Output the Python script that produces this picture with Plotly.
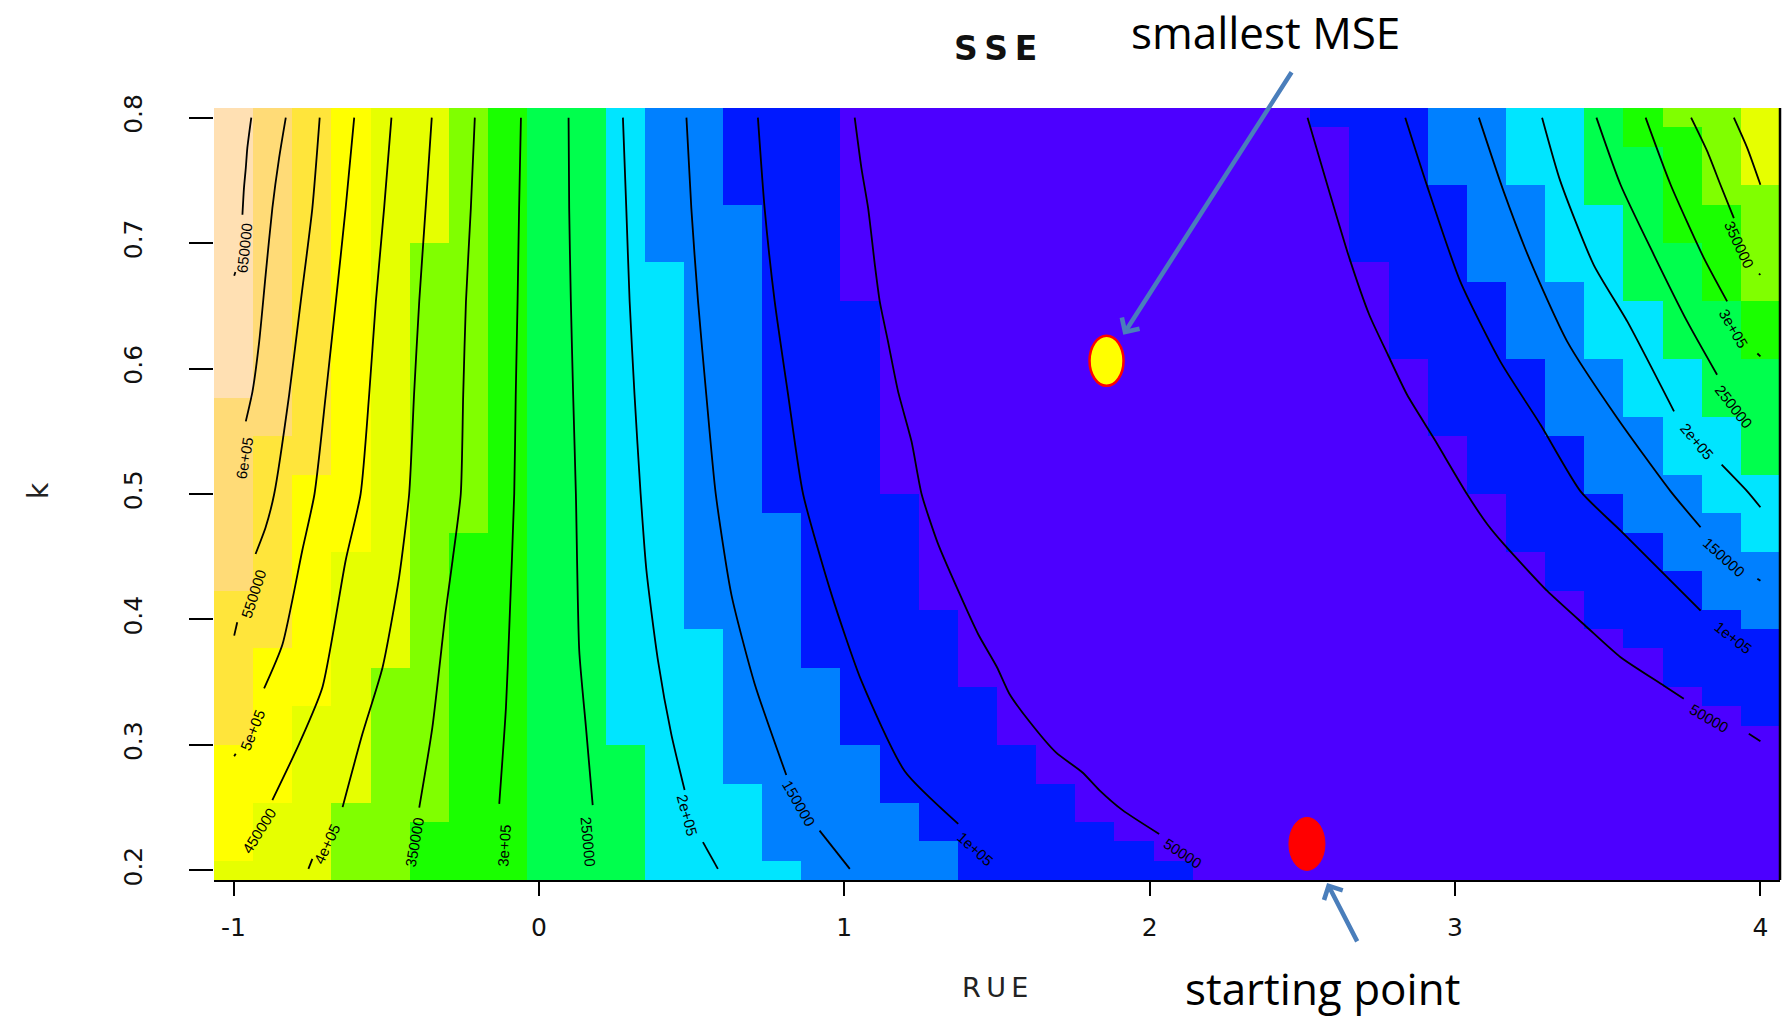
import numpy as np
import plotly.graph_objects as go

# ---------------- data ----------------
RUE_GRID = np.linspace(-1.0, 4.0, 40)      # grid of RUE values (cell centres)
K_GRID = np.linspace(0.2, 0.8, 40)         # grid of k values (cell centres)

# topo.colors(12): SSE bands from lowest (purple) to highest (peach)
BAND_COLORS = ["#4C00FF", "#0019FF", "#0080FF", "#00E5FF", "#00FF4D", "#1AFF00",
               "#80FF00", "#E6FF00", "#FFFF00", "#FFE53B", "#FFDB77", "#FFE0B3"]

# SSE band of every grid cell, column by column (RUE -1 .. 4),
# listed from k = 0.8 down to k = 0.2 as (band, number of cells)
BAND_RUNS = [
    [(11, 15), (10, 10), (9, 8), (8, 6), (7, 1)],
    [(10, 17), (9, 11), (8, 8), (7, 4)],
    [(9, 19), (8, 12), (7, 9)],
    [(8, 23), (7, 13), (6, 4)],
    [(7, 29), (6, 11)],
    [(7, 7), (6, 30), (5, 3)],
    [(6, 22), (5, 18)],
    [(5, 40)],
    [(4, 40)],
    [(4, 40)],
    [(3, 33), (4, 7)],
    [(2, 8), (3, 32)],
    [(2, 27), (3, 13)],
    [(1, 5), (2, 30), (3, 5)],
    [(1, 21), (2, 18), (3, 1)],
    [(1, 29), (2, 11)],
    [(0, 10), (1, 23), (2, 7)],
    [(0, 20), (1, 16), (2, 4)],
    [(0, 26), (1, 12), (2, 2)],
    [(0, 30), (1, 10)],
    [(0, 33), (1, 7)],
    [(0, 35), (1, 5)],
    [(0, 37), (1, 3)],
    [(0, 38), (1, 2)],
    [(0, 39), (1, 1)],
    [(0, 40)],
    [(0, 40)],
    [(0, 40)],
    [(1, 1), (0, 39)],
    [(1, 8), (0, 32)],
    [(1, 13), (0, 27)],
    [(2, 4), (1, 13), (0, 23)],
    [(2, 9), (1, 11), (0, 20)],
    [(3, 4), (2, 9), (1, 10), (0, 17)],
    [(3, 9), (2, 8), (1, 8), (0, 15)],
    [(4, 5), (3, 8), (2, 7), (1, 7), (0, 13)],
    [(5, 2), (4, 8), (3, 6), (2, 6), (1, 6), (0, 12)],
    [(6, 1), (5, 6), (4, 6), (3, 6), (2, 5), (1, 6), (0, 10)],
    [(6, 5), (5, 5), (4, 6), (3, 5), (2, 5), (1, 5), (0, 9)],
    [(7, 4), (6, 6), (5, 3), (4, 6), (3, 4), (2, 4), (1, 5), (0, 8)],
]

# SSE contour lines (RUE, k); None marks the gap where the label sits
L650000_RUE = [-0.942, -0.955, -0.960, -0.966, -0.971, None, -0.994, -0.998]
L650000_K = [0.8, 0.7757, 0.7598, 0.7438, 0.7226, None, 0.677, 0.674]
L600000_RUE = [-0.829, -0.851, -0.873, -0.895, -0.916, -0.938, -0.960]
L600000_K = [0.8, 0.7677, 0.7279, 0.6747, 0.6217, 0.5818, 0.5579]
L550000_RUE = [-0.718, -0.742, -0.780, -0.818, -0.867, -0.895, -0.928, None, -0.988, -0.998]
L550000_K = [0.8, 0.7279, 0.6535, 0.5791, 0.5, 0.4735, 0.4522, None, 0.3978, 0.3871]
L500000_RUE = [-0.605, -0.633, -0.665, -0.698, -0.735, -0.775, -0.840, -0.900, None, -0.993, -0.998]
L500000_K = [0.8, 0.7279, 0.6535, 0.5791, 0.5, 0.455, 0.380, 0.345, None, 0.293, 0.291]
L450000_RUE = [-0.483, -0.507, -0.534, -0.556, -0.584, -0.633, -0.709, -0.785, -0.873]
L450000_K = [0.8, 0.7279, 0.6535, 0.5791, 0.5, 0.447, 0.346, 0.301, 0.256]
L400000_RUE = [-0.351, -0.371, -0.392, -0.409, -0.425, -0.458, -0.512, -0.578, -0.643, None, -0.742, -0.755]
L400000_K = [0.8, 0.7279, 0.6535, 0.5791, 0.5, 0.4336, 0.3619, 0.3088, 0.2504, None, 0.2092, 0.2012]
L350000_RUE = [-0.210, -0.223, -0.239, -0.248, -0.256, -0.283, -0.305, -0.349, -0.392]
L350000_K = [0.8, 0.7279, 0.6535, 0.5791, 0.5, 0.4469, 0.407, 0.314, 0.25]
L300000_RUE = [-0.059, -0.065, -0.070, -0.076, -0.081, -0.097, -0.108, -0.130]
L300000_K = [0.8, 0.7279, 0.6535, 0.5791, 0.5, 0.394, 0.33, 0.253]
L250000_RUE = [0.097, 0.099, 0.1045, 0.112, 0.121, 0.132, 0.154, 0.176]
L250000_K = [0.8, 0.7279, 0.6535, 0.5791, 0.5, 0.375, 0.314, 0.252]
L200000_RUE = [0.275, 0.286, 0.297, 0.313, 0.333, 0.352, 0.390, 0.433, 0.477, None, 0.537, 0.586]
L200000_K = [0.8, 0.7279, 0.6535, 0.5791, 0.5, 0.439, 0.367, 0.309, 0.264, None, 0.2225, 0.2012]
L150000_RUE = [0.483, 0.499, 0.521, 0.548, 0.579, 0.630, 0.706, 0.810, None, 0.919, 1.018]
L150000_K = [0.8, 0.7279, 0.6535, 0.5791, 0.5, 0.42, 0.349, 0.276, None, 0.2317, 0.2012]
L100000_RUE = [0.717, 0.739, 0.772, 0.816, 0.865, 0.958, 1.056, 1.198, 1.373]
L100000_K = [0.8, 0.7279, 0.6535, 0.5791, 0.5, 0.42, 0.351, 0.279, 0.2371]
L50000_RUE = [1.034, 1.056, 1.078, 1.100, 1.116, 1.143, 1.176, 1.220, 1.253, 1.307, 1.373,
              1.438, 1.500, 1.540, 1.605, 1.693, 1.780, 1.835, 1.911, 2.031]
L50000_K = [0.8, 0.7598, 0.7279, 0.6827, 0.6535, 0.6217, 0.5818, 0.542, 0.5, 0.4602, 0.4229,
            0.3884, 0.3619, 0.341, 0.319, 0.294, 0.278, 0.264, 0.248, 0.229]
R50000_RUE = [2.517, 2.588, 2.654, 2.719, 2.780, 2.843, 2.930, 3.039, 3.105, 3.159, 3.301,
              3.432, 3.542, 3.684, 3.749, None, 3.962, 4.0]
R50000_K = [0.8, 0.7412, 0.688, 0.6429, 0.611, 0.5791, 0.5446, 0.5, 0.4761, 0.4602, 0.4229,
            0.3938, 0.3699, 0.3472, 0.3367, None, 0.3088, 0.3030]
R100000_RUE = [2.837, 2.908, 3.017, 3.148, 3.280, 3.411, 3.542, 3.673, 3.804]
R100000_K = [0.8, 0.746, 0.6695, 0.6057, 0.5552, 0.5021, 0.4708, 0.4389, 0.4070]
R150000_RUE = [3.078, 3.159, 3.247, 3.367, 3.531, 3.706, 3.804, None, 3.99, 4.0]
R150000_K = [0.8, 0.7412, 0.6854, 0.6217, 0.5606, 0.5021, 0.4735, None, 0.4325, 0.4309]
R200000_RUE = [3.285, 3.345, 3.454, 3.564, 3.717, None, 3.873, 3.957, 4.0]
R200000_K = [0.8, 0.7492, 0.6827, 0.6376, 0.5659, None, 0.5234, 0.5021, 0.4894]
R250000_RUE = [3.463, 3.542, 3.651, 3.760, 3.858]
R250000_K = [0.8, 0.7465, 0.6907, 0.6376, 0.5951]
R300000_RUE = [3.624, 3.706, 3.815, 3.891, None, 3.99, 4.0]
R300000_K = [0.8, 0.7465, 0.688, 0.6535, None, 0.612, 0.6097]
R350000_RUE = [3.773, 3.826, 3.869, 3.913, None, 3.995, 4.0]
R350000_K = [0.8, 0.7731, 0.7465, 0.7199, None, 0.6757, 0.6747]
R400000_RUE = [3.913, 3.957, 4.0]
R400000_K = [0.8, 0.7757, 0.7465]

# contour labels
LABEL_TEXT = ["650000", "6e+05", "550000", "5e+05", "450000", "4e+05", "350000", "3e+05",
              "250000", "2e+05", "150000", "1e+05", "50000",
              "50000", "1e+05", "150000", "2e+05", "250000", "3e+05", "350000"]
LABEL_RUE = [-0.966, -0.966, -0.933, -0.938, -0.916, -0.693, -0.409, -0.114, 0.1625, 0.486,
             0.852, 1.427, 2.110, 3.833, 3.910, 3.882, 3.793, 3.913, 3.913, 3.930]
LABEL_K = [0.696, 0.5287, 0.4203, 0.3114, 0.2317, 0.2211, 0.2225, 0.2198, 0.2233, 0.2437,
           0.2535, 0.2171, 0.2137, 0.3207, 0.3853, 0.4496, 0.542, 0.5699, 0.6323, 0.6987]
LABEL_ANGLE = [-84, -80, -72, -68, -58, -65, -80, -86, 85, 75, 60, 42, 33, 30, 38, 42, 50, 52, 60, 65]

# highlighted points
POINT_NAMES = ["smallest MSE", "starting point"]
POINT_RUE = [1.8587, 2.515]
POINT_K = [0.6062, 0.2211]

X_TICKS = [-1, 0, 1, 2, 3, 4]
X_TICKTEXT = ["-1", "0", "1", "2", "3", "4"]
Y_TICKS = [0.2, 0.3, 0.4, 0.5, 0.6, 0.7, 0.8]
Y_TICKTEXT = ["0.2", "0.3", "0.4", "0.5", "0.6", "0.7", "0.8"]

# ---------------- figure ----------------
W, H = 1783, 1017
ML, MR, MT, MB = 214, 3, 108, 137
FONT = "DejaVu Sans, Liberation Sans, Arial, sans-serif"
LABEL_FONT = "Liberation Sans, Arial, sans-serif"
NOTE_FONT = "Open Sans, Noto Sans, sans-serif"
THIN = "\u2009"


def px_x(p):
    return (p - ML) / (W - ML - MR)


def px_y(p):
    return (H - MB - p) / (H - MT - MB)


z = np.zeros((len(K_GRID), len(RUE_GRID)))
for c, runs in enumerate(BAND_RUNS):
    col = []
    for band, n in runs:
        col += [band] * n
    z[:, c] = col[::-1]

nb = len(BAND_COLORS)
colorscale = []
for i, col in enumerate(BAND_COLORS):
    colorscale.append([i / nb, col])
    colorscale.append([(i + 1) / nb, col])

fig = go.Figure()
fig.add_trace(go.Heatmap(x=RUE_GRID, y=K_GRID, z=z, colorscale=colorscale,
                         zmin=-0.5, zmax=nb - 0.5, showscale=False, hoverinfo="skip"))

lines = [
    (L650000_RUE, L650000_K), (L600000_RUE, L600000_K), (L550000_RUE, L550000_K),
    (L500000_RUE, L500000_K), (L450000_RUE, L450000_K), (L400000_RUE, L400000_K),
    (L350000_RUE, L350000_K), (L300000_RUE, L300000_K), (L250000_RUE, L250000_K),
    (L200000_RUE, L200000_K), (L150000_RUE, L150000_K), (L100000_RUE, L100000_K),
    (L50000_RUE, L50000_K), (R50000_RUE, R50000_K), (R100000_RUE, R100000_K),
    (R150000_RUE, R150000_K), (R200000_RUE, R200000_K), (R250000_RUE, R250000_K),
    (R300000_RUE, R300000_K), (R350000_RUE, R350000_K), (R400000_RUE, R400000_K),
]
for xs, ys in lines:
    fig.add_trace(go.Scatter(x=xs, y=ys, mode="lines", connectgaps=False,
                             line=dict(color="black", width=1.8, shape="spline", smoothing=0.6),
                             hoverinfo="skip", showlegend=False))

annotations = []
for t, xr, yk, ang in zip(LABEL_TEXT, LABEL_RUE, LABEL_K, LABEL_ANGLE):
    annotations.append(dict(x=xr, y=yk, xref="x", yref="y", text=t, showarrow=False,
                            xanchor="center", yanchor="middle",
                            textangle=ang, font=dict(family=LABEL_FONT, size=15, color="black")))

# ellipse markers and right frame line
shapes = [
    dict(type="circle", xref="x", yref="y", xsizemode="pixel", ysizemode="pixel",
         xanchor=POINT_RUE[0], yanchor=POINT_K[0], x0=-17, x1=17, y0=-25, y1=25,
         fillcolor="#FFFF00", line=dict(color="#FF0000", width=2.5)),
    dict(type="circle", xref="x", yref="y", xsizemode="pixel", ysizemode="pixel",
         xanchor=POINT_RUE[1], yanchor=POINT_K[1], x0=-18, x1=18, y0=-26.5, y1=26.5,
         fillcolor="#FF0000", line=dict(color="#FF0000", width=1)),
    dict(type="line", xref="x domain", yref="y domain", x0=1, x1=1, y0=0, y1=1,
         line=dict(color="black", width=2.5)),
]

# arrows
annotations.append(dict(x=POINT_RUE[0], y=POINT_K[0], xref="x", yref="y", text="",
                        showarrow=True, ax=186, ay=-290, standoff=31, arrowhead=4,
                        arrowsize=0.9, arrowwidth=4.5, arrowcolor="#4A7EBB"))
annotations.append(dict(x=POINT_RUE[1], y=POINT_K[1], xref="x", yref="y", text="",
                        showarrow=True, ax=51, ay=99, standoff=44, arrowhead=4,
                        arrowsize=0.9, arrowwidth=4.5, arrowcolor="#4A7EBB"))


def paper_text(text, xp, yp, family, size, color, angle=0):
    return dict(x=px_x(xp), y=px_y(yp), xref="paper", yref="paper", text=text,
                showarrow=False, xanchor="center", yanchor="middle", textangle=angle,
                font=dict(family=family, size=size, color=color))


annotations.append(paper_text(POINT_NAMES[0], 1265, 32, NOTE_FONT, 44, "black"))
annotations.append(paper_text(POINT_NAMES[1], 1322, 988, NOTE_FONT, 44, "black"))
annotations.append(paper_text("<b>" + THIN.join("SSE") + "</b>", 995, 49, FONT, 33, "#111111"))
annotations.append(paper_text(THIN.join("RUE"), 995, 987, FONT, 27, "#222222"))
annotations.append(paper_text("k", 38, 491, FONT, 28, "#222222", angle=-90))

dx = (RUE_GRID[1] - RUE_GRID[0]) / 2
dy = (K_GRID[1] - K_GRID[0]) / 2
fig.update_layout(
    width=W, height=H, margin=dict(l=ML, r=MR, t=MT, b=MB, pad=0),
    paper_bgcolor="white", plot_bgcolor="white",
    shapes=shapes, annotations=annotations, showlegend=False,
    xaxis=dict(range=[RUE_GRID[0] - dx, RUE_GRID[-1] + dx], tickmode="array",
               tickvals=X_TICKS, ticktext=X_TICKTEXT, ticks="outside", ticklen=14,
               tickwidth=2, tickcolor="black", showgrid=False, zeroline=False,
               showline=True, linecolor="black", linewidth=2,
               ticklabelstandoff=10,
               tickfont=dict(family=FONT, size=25, color="#111111")),
    yaxis=dict(range=[K_GRID[0] - dy, K_GRID[-1] + dy], tickmode="array",
               tickvals=Y_TICKS, ticktext=Y_TICKTEXT, ticks="outside", ticklen=24,
               tickwidth=1.5, tickcolor="black", showgrid=False, zeroline=False,
               showline=False, tickangle=-90, ticklabelstandoff=37,
               tickfont=dict(family=FONT, size=25, color="#111111")),
)

fig.write_html("out.html", config={"displayModeBar": False})
